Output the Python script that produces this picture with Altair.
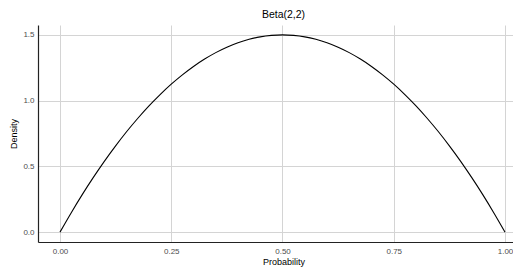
import altair as alt
import pandas as pd

prob = [0.0, 0.025, 0.05, 0.075, 0.1, 0.125, 0.15, 0.175, 0.2, 0.225, 0.25,
        0.275, 0.3, 0.325, 0.35, 0.375, 0.4, 0.425, 0.45, 0.475, 0.5,
        0.525, 0.55, 0.575, 0.6, 0.625, 0.65, 0.675, 0.7, 0.725, 0.75,
        0.775, 0.8, 0.825, 0.85, 0.875, 0.9, 0.925, 0.95, 0.975, 1.0]
density = [0.0, 0.146, 0.285, 0.416, 0.54, 0.656, 0.765, 0.866, 0.96, 1.046, 1.125,
           1.196, 1.26, 1.316, 1.365, 1.406, 1.44, 1.466, 1.485, 1.496, 1.5,
           1.496, 1.485, 1.466, 1.44, 1.406, 1.365, 1.316, 1.26, 1.196, 1.125,
           1.046, 0.96, 0.866, 0.765, 0.656, 0.54, 0.416, 0.285, 0.146, 0.0]
x_ticks = [0.0, 0.25, 0.5, 0.75, 1.0]
y_ticks = [0.0, 0.5, 1.0, 1.5]

df = pd.DataFrame({"Probability": prob, "Density": density})

FONT = "Liberation Sans"

chart = alt.Chart(df).mark_line(color="black", strokeWidth=1.1, interpolate="monotone").encode(
    x=alt.X("Probability:Q",
            scale=alt.Scale(domain=[-0.0494, 1.0539], nice=False, zero=False),
            axis=alt.Axis(values=x_ticks, format=".2f", title="Probability",
                          tickSize=0, labelPadding=5, titlePadding=2,
                          domainColor="#222222", domainWidth=1.2,
                          gridColor="#d4d4d4", gridWidth=1,
                          labelColor="#4d4d4d", labelFontSize=8, titleFontSize=9,
                          titleFontWeight="normal", labelFont=FONT, titleFont=FONT,
                          labelFlush=False)),
    y=alt.Y("Density:Q",
            scale=alt.Scale(domain=[-0.075, 1.575], nice=False, zero=False),
            axis=alt.Axis(values=y_ticks, format=".1f", title="Density",
                          tickSize=0, labelPadding=4, titlePadding=4,
                          domainColor="#222222", domainWidth=1.2,
                          gridColor="#d4d4d4", gridWidth=1,
                          labelColor="#4d4d4d", labelFontSize=8, titleFontSize=9,
                          titleFontWeight="normal", labelFont=FONT, titleFont=FONT,
                          labelFlush=False)),
).properties(
    width=491,
    height=217,
    title=alt.TitleParams("Beta(2,2)", font=FONT, fontSize=10.5, fontWeight="normal",
                          anchor="middle", offset=5, color="black"),
    autosize=alt.AutoSizeParams(type="none"),
    padding={"left": 30, "top": 17, "right": -16, "bottom": 25},
).configure_view(stroke=None)

chart.save("out.html", embed_options={"renderer": "svg", "actions": False})
